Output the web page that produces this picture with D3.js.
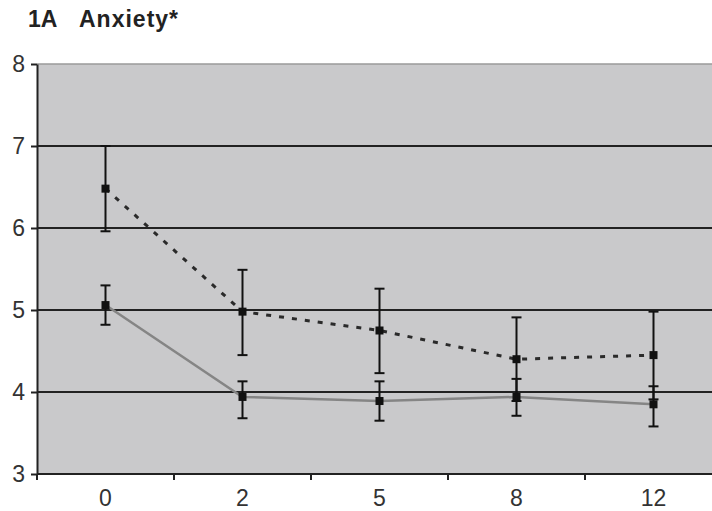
<!DOCTYPE html>
<html>
<head>
<meta charset="utf-8">
<script src="https://cdn.jsdelivr.net/npm/d3@7"></script>
<style>
  body { margin: 0; background: #fff; }
  text { font-family: "Liberation Sans", Arial, sans-serif; }
</style>
</head>
<body>
<div id="chart"></div>
<script>
(function () {
    // weeks
    var weeks = ["0", "2", "5", "8", "12"];
    var yTicks = [3, 4, 5, 6, 7, 8];

    // solid series (grey line)
    var solidMean = [5.06, 3.94, 3.89, 3.94, 3.85];
    var solidLow  = [4.82, 3.68, 3.65, 3.71, 3.58];
    var solidHigh = [5.30, 4.13, 4.13, 4.16, 4.07];

    // dotted series
    var dotMean = [6.48, 4.98, 4.75, 4.40, 4.45];
    var dotLow  = [5.96, 4.45, 4.23, 3.89, 3.91];
    var dotHigh = [7.00, 5.49, 5.26, 4.91, 4.98];

    const width = 712;
    const height = 511;
    const left = 37;
    const top = 64;
    const bottom = 474;
    const bandW = 137;
    const capW = 10;
    const markSize = 8;
    const fontSize = 23;

    var svg = d3.select('#chart').append('svg')
        .attr('width', width)
        .attr('height', height);

    var x = d3.scaleBand()
        .domain(weeks)
        .range([left, left + bandW * weeks.length])
        .padding(0);

    var y = d3.scaleLinear()
        .domain([3, 8])
        .range([bottom, top]);

    function cx(i) { return x(weeks[i]) + x.bandwidth() / 2; }

    // plot background
    svg.append('rect')
        .attr('x', left)
        .attr('y', y(8))
        .attr('width', width - left)
        .attr('height', y(3) - y(8))
        .attr('fill', '#c9c9cb');

    // top border
    svg.append('line')
        .attr('x1', left).attr('x2', width)
        .attr('y1', y(8)).attr('y2', y(8))
        .attr('stroke', '#9a9a9a')
        .attr('stroke-width', 1.5);

    // gridlines
    svg.selectAll('.grid').data([4, 5, 6, 7])
        .enter().append('line')
        .attr('class', 'grid')
        .attr('x1', left).attr('x2', width)
        .attr('y1', function (d) { return y(d); })
        .attr('y2', function (d) { return y(d); })
        .attr('stroke', '#222')
        .attr('stroke-width', 2);

    // y axis
    var yAxis = d3.axisLeft(y).tickValues(yTicks).tickFormat(d3.format('d'))
        .tickSize(6).tickSizeOuter(0);
    var yg = svg.append('g')
        .attr('transform', `translate(${left},0)`)
        .call(yAxis);
    yg.select('.domain').attr('stroke', '#222').attr('stroke-width', 2);
    yg.selectAll('.tick line').attr('stroke', '#222').attr('stroke-width', 2);
    yg.selectAll('.tick text')
        .attr('x', -12)
        .attr('font-size', fontSize)
        .attr('fill', '#333');

    // x axis line + ticks between categories
    svg.append('line')
        .attr('x1', left).attr('x2', width)
        .attr('y1', bottom).attr('y2', bottom)
        .attr('stroke', '#222')
        .attr('stroke-width', 2);

    svg.selectAll('.xtick').data(weeks)
        .enter().append('line')
        .attr('class', 'xtick')
        .attr('x1', function (d) { return x(d); })
        .attr('x2', function (d) { return x(d); })
        .attr('y1', bottom)
        .attr('y2', bottom + 6)
        .attr('stroke', '#222')
        .attr('stroke-width', 2);

    svg.selectAll('.xlabel').data(weeks)
        .enter().append('text')
        .attr('class', 'xlabel')
        .attr('x', function (d) { return x(d) + x.bandwidth() / 2; })
        .attr('y', bottom + 32)
        .attr('text-anchor', 'middle')
        .attr('font-size', fontSize)
        .attr('fill', '#333')
        .text(function (d) { return d; });

    // title
    svg.append('text')
        .attr('x', 28)
        .attr('y', 27)
        .attr('font-size', 23)
        .attr('font-weight', 'bold')
        .attr('fill', '#222')
        .text('1A');
    svg.append('text')
        .attr('x', 79)
        .attr('y', 27)
        .attr('font-size', 23)
        .attr('font-weight', 'bold')
        .attr('letter-spacing', 1)
        .attr('fill', '#222')
        .text('Anxiety*');

    var line = d3.line()
        .x(function (d, i) { return cx(i); })
        .y(function (d) { return y(d); });

    function drawSeries(mean, low, high, lineStyle) {
        var g = svg.append('g');

        g.append('path')
            .datum(mean)
            .attr('d', line)
            .attr('fill', 'none')
            .attr('stroke', lineStyle.color)
            .attr('stroke-width', lineStyle.width)
            .attr('stroke-dasharray', lineStyle.dash);

        var idx = d3.range(mean.length);

        g.selectAll('.err').data(idx)
            .enter().append('line')
            .attr('x1', cx).attr('x2', cx)
            .attr('y1', function (i) { return y(low[i]); })
            .attr('y2', function (i) { return y(high[i]); })
            .attr('stroke', '#111')
            .attr('stroke-width', 2);

        [low, high].forEach(function (arr) {
            g.selectAll(null).data(idx)
                .enter().append('line')
                .attr('x1', function (i) { return cx(i) - capW / 2; })
                .attr('x2', function (i) { return cx(i) + capW / 2; })
                .attr('y1', function (i) { return y(arr[i]); })
                .attr('y2', function (i) { return y(arr[i]); })
                .attr('stroke', '#111')
                .attr('stroke-width', 2);
        });

        g.selectAll('.mark').data(idx)
            .enter().append('rect')
            .attr('x', function (i) { return cx(i) - markSize / 2; })
            .attr('y', function (i) { return y(mean[i]) - markSize / 2; })
            .attr('width', markSize)
            .attr('height', markSize)
            .attr('fill', '#111');
    }

    drawSeries(solidMean, solidLow, solidHigh, { color: '#858585', width: 2.5, dash: null });
    drawSeries(dotMean, dotLow, dotHigh, { color: '#2a2a2a', width: 3, dash: '5,8' });
})();
</script>
</body>
</html>
